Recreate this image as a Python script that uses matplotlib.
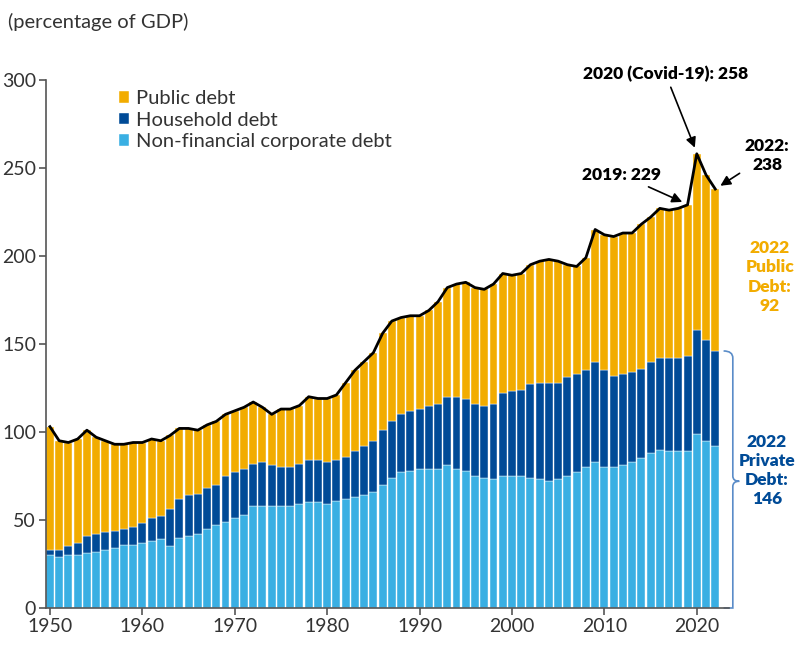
import numpy as np
import matplotlib
matplotlib.use("Agg")
import matplotlib.pyplot as plt
from matplotlib.path import Path
from matplotlib.patches import PathPatch

plt.rcParams['font.family'] = ['Lato', 'DejaVu Sans']

years = np.arange(1950, 2023)

# total debt (% of GDP)
total = [103, 95, 94, 96, 101, 97, 95, 93, 93, 94,
         94, 96, 95, 98, 102, 102, 101, 104, 106, 110,
         112, 114, 117, 114, 110, 113, 113, 115, 120, 119,
         119, 121, 128, 135, 140, 145, 156, 163, 165, 166,
         166, 169, 174, 182, 184, 185, 182, 181, 184, 190,
         189, 190, 195, 197, 198, 197, 195, 194, 199, 215,
         212, 211, 213, 213, 218, 222, 227, 226, 227, 229,
         258, 246, 238]

# private debt = corporate + household
private = [33, 33, 35, 37, 41, 42, 43, 44, 45, 46,
           48, 51, 52, 56, 62, 64, 65, 68, 70, 75,
           77, 79, 82, 83, 81, 80, 80, 82, 84, 84,
           83, 84, 86, 89, 92, 95, 101, 106, 110, 112,
           113, 115, 116, 120, 120, 119, 116, 115, 116, 122,
           123, 124, 127, 128, 128, 128, 131, 133, 135, 140,
           135, 132, 133, 134, 136, 140, 142, 142, 142, 143,
           158, 152, 146]

corporate = [30, 29, 30, 30, 31, 32, 33, 34, 36, 36,
             37, 38, 39, 35, 40, 41, 42, 45, 47, 49,
             51, 53, 58, 58, 58, 58, 58, 59, 60, 60,
             59, 61, 62, 63, 64, 66, 70, 74, 77, 78,
             79, 79, 79, 81, 79, 78, 75, 74, 73, 75,
             75, 75, 74, 73, 72, 73, 75, 77, 80, 83,
             80, 80, 81, 83, 85, 88, 90, 89, 89, 89,
             99, 95, 92]

total = np.array(total)
private = np.array(private)
corporate = np.array(corporate)
household = private - corporate
public = total - private

c_pub = '#F2AC00'
c_hh = '#004B97'
c_corp = '#39AFE3'
c_text = '#333333'

fig = plt.figure(figsize=(8.03, 6.52), dpi=100)
ax = fig.add_axes([0.057, 0.0675, 0.851, 0.81])

w = 0.86
ax.bar(years, corporate, width=w, color=c_corp, edgecolor='white', linewidth=0.3,
       label='Non-financial corporate debt')
ax.bar(years, household, bottom=corporate, width=w, color=c_hh, edgecolor='white',
       linewidth=0.3, label='Household debt')
ax.bar(years, public, bottom=private, width=w, color=c_pub, edgecolor='white',
       linewidth=0.3, label='Public debt')
ax.plot(years, total, color='black', lw=2, solid_joinstyle='round')

ax.set_xlim(1949.55, 2023.5)
ax.set_ylim(0, 300)
ax.set_yticks(range(0, 301, 50))
ax.set_xticks(range(1950, 2021, 10))
for s in ['top', 'right']:
    ax.spines[s].set_visible(False)
for s in ['left', 'bottom']:
    ax.spines[s].set_color('#555555')
    ax.spines[s].set_linewidth(1.2)
ax.tick_params(axis='both', labelsize=14, colors='#555555', labelcolor=c_text,
               length=5, width=1.2, direction='out', pad=2)

h, l = ax.get_legend_handles_labels()
leg = ax.legend(h[::-1], l[::-1], loc='upper left', bbox_to_anchor=(0.08, 1.015),
                frameon=False, fontsize=14.5, handlelength=0.5, handleheight=0.5,
                handletextpad=0.35, labelspacing=0.22, labelcolor=c_text)

fig.text(0.01, 0.967, '(percentage of GDP)', fontsize=14.5, color=c_text,
         ha='left', va='center')

bold = dict(fontsize=12.5, fontweight='heavy', color='black', ha='center')
arrow = dict(arrowstyle='-|>', color='black', lw=1.2, mutation_scale=15)
ax.annotate('2020 (Covid-19): 258', xy=(2019.9, 260), xytext=(2016.6, 303.5),
            va='center', arrowprops=arrow, annotation_clip=False, **bold)
ax.annotate('2019: 229', xy=(2018.7, 230), xytext=(2011.9, 246),
            va='center', arrowprops=arrow, annotation_clip=False, **bold)
ax.annotate('2022:\n238', xy=(2022.3, 239), xytext=(2027.6, 257),
            va='center', linespacing=1.2, arrowprops=arrow,
            annotation_clip=False, **bold)

ax.text(2027.9, 209, '2022\nPublic\nDebt:\n92', fontsize=12.5, fontweight='heavy',
        color=c_pub, ha='center', va='top', linespacing=1.25, clip_on=False)
ax.text(2027.6, 99, '2022\nPrivate\nDebt:\n146', fontsize=12.5, fontweight='heavy',
        color=c_hh, ha='center', va='top', linespacing=1.25, clip_on=False)

# curly brace for private debt
x0, x1, x2 = 2022.9, 2023.9, 2024.6
top, bot, mid = 146, 0, 72
verts = [(x0, top), (x1, top), (x1, top - 4), (x1, top - 10),
         (x1, mid + 3), (x1, mid), (x2, mid),
         (x1, mid), (x1, mid - 3), (x1, bot + 10),
         (x1, bot + 4), (x1, bot), (x0, bot)]
codes = [Path.MOVETO, Path.CURVE3, Path.CURVE3, Path.LINETO,
         Path.LINETO, Path.CURVE3, Path.CURVE3,
         Path.CURVE3, Path.CURVE3, Path.LINETO,
         Path.CURVE3, Path.CURVE3, Path.LINETO]
ax.add_patch(PathPatch(Path(verts, codes), fill=False, edgecolor='#5A8CC8',
                       lw=1.2, clip_on=False))

fig.savefig('out.png', dpi=100)
